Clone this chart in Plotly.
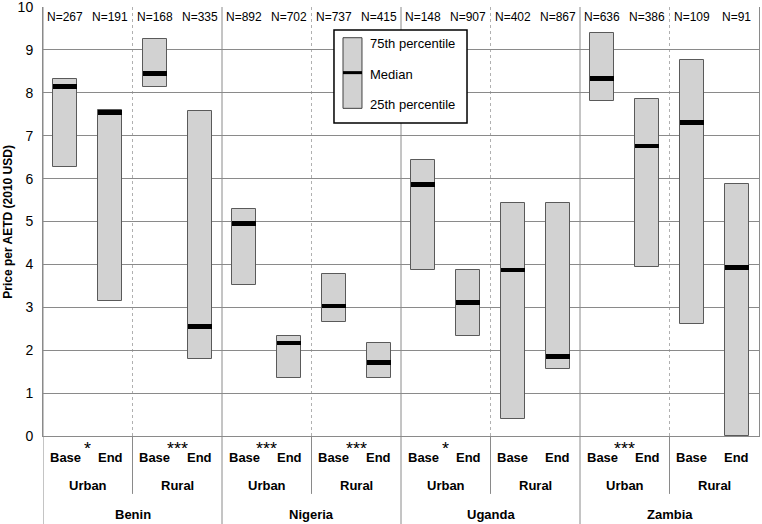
import plotly.graph_objects as go

# ---- data ----
countries = ["Benin", "Nigeria", "Uganda", "Zambia"]
areas = ["Urban", "Rural"]
periods = ["Base", "End"]
n_labels = ["N=267", "N=191", "N=168", "N=335", "N=892", "N=702", "N=737", "N=415",
            "N=148", "N=907", "N=402", "N=867", "N=636", "N=386", "N=109", "N=91"]
p25 = [6.28, 3.15, 8.14, 1.79, 3.52, 1.36, 2.65, 1.36,
       3.87, 2.33, 0.40, 1.56, 7.80, 3.93, 2.61, 0.00]
median = [8.15, 7.54, 8.45, 2.55, 4.95, 2.17, 3.03, 1.72,
          5.87, 3.12, 3.87, 1.86, 8.34, 6.76, 7.30, 3.92]
p75 = [8.33, 7.59, 9.25, 7.57, 5.28, 2.33, 3.78, 2.17,
       6.43, 3.87, 5.42, 5.42, 9.39, 7.85, 8.76, 5.87]
signif = ["*", "***", "***", "***", "*", "", "***", ""]
y_ticks = [0, 1, 2, 3, 4, 5, 6, 7, 8, 9, 10]

FONT = "Liberation Sans, Arial, sans-serif"
n = len(p25)
xs = [i + 0.5 for i in range(n)]
W = 0.54
med_h = 0.11


def ann(x, y, text, size, xref="x", xanchor="center", **kw):
    return dict(x=x, y=y, xref=xref, yref="paper", text=text, showarrow=False,
                xanchor=xanchor, yanchor="middle",
                font=dict(size=size, color="#000", family=FONT), **kw)


fig = go.Figure()
fig.add_trace(go.Bar(
    x=xs, y=[t - b for t, b in zip(p75, p25)], base=p25, width=W,
    marker=dict(color="#d2d2d2", line=dict(color="#5a5a5a", width=1)),
    showlegend=False, hoverinfo="skip"))
fig.add_trace(go.Bar(
    x=xs, y=[med_h] * n, base=[m - med_h / 2 for m in median], width=W,
    marker=dict(color="#000000", line=dict(width=0)),
    showlegend=False, hoverinfo="skip"))

shapes = []
annotations = []
# vertical separators
for k in range(1, 8):
    xv = 2 * k
    if k % 2 == 1:
        shapes.append(dict(type="line", xref="x", yref="paper", x0=xv, x1=xv, y0=0, y1=1,
                           line=dict(color="#b0b0b0", width=1, dash="dot"), layer="below"))
        shapes.append(dict(type="line", xref="x", yref="paper", x0=xv, x1=xv, y0=0, y1=-0.135,
                           line=dict(color="#8a8a8a", width=1)))
    else:
        shapes.append(dict(type="line", xref="x", yref="paper", x0=xv, x1=xv, y0=1, y1=-0.21,
                           line=dict(color="#8a8a8a", width=1), layer="below"))
shapes.append(dict(type="line", xref="x", yref="paper", x0=0, x1=0, y0=1, y1=-0.21,
                   line=dict(color="#8a8a8a", width=1)))

for i in range(n):
    annotations.append(ann(xs[i], 0.977, n_labels[i], 12))
    annotations.append(ann(xs[i], -0.050, "<b>" + periods[i % 2] + "</b>", 13))
for g in range(8):
    annotations.append(ann(2 * g + 1, -0.116, "<b>" + areas[g % 2] + "</b>", 13))
    if signif[g]:
        annotations.append(ann(2 * g + 1, -0.0186, signif[g], 18,
                               height=9, valign="top", borderpad=0))
for c in range(4):
    annotations.append(ann(4 * c + 2, -0.182, "<b>" + countries[c] + "</b>", 13))

# legend box
shapes.append(dict(type="rect", xref="paper", yref="paper", x0=0.4064, x1=0.5922,
                   y0=0.7296, y1=0.9464, line=dict(color="#000", width=1.5),
                   fillcolor="#ffffff"))
shapes.append(dict(type="rect", xref="paper", yref="paper", x0=0.419, x1=0.4455,
                   y0=0.7638, y1=0.9284, line=dict(color="#404040", width=1),
                   fillcolor="#d2d2d2"))
shapes.append(dict(type="rect", xref="paper", yref="paper", x0=0.419, x1=0.4455,
                   y0=0.8435, y1=0.8505, line=dict(width=0), fillcolor="#000"))
for txt, yy in [("75th percentile", 0.915), ("Median", 0.8438), ("25th percentile", 0.7716)]:
    annotations.append(ann(0.4545, yy, txt, 13, xref="paper", xanchor="left"))

annotations.append(ann(-0.05, 0.5, "<b>Price per AETD (2010 USD)</b>", 12,
                       xref="paper", textangle=-90))

fig.update_layout(
    width=762, height=524,
    margin=dict(l=43, r=3, t=7, b=88, autoexpand=False),
    paper_bgcolor="#ffffff", plot_bgcolor="#ffffff",
    barmode="overlay", bargap=0,
    shapes=shapes, annotations=annotations,
    font=dict(family=FONT, color="#000"),
    xaxis=dict(range=[0, 16], showticklabels=False, showgrid=False, zeroline=False,
               showline=True, linecolor="#8a8a8a", linewidth=1, ticks="",
               fixedrange=True, automargin=False),
    yaxis=dict(range=[0, 10], tickvals=y_ticks, showgrid=True, gridcolor="#8a8a8a",
               gridwidth=1, zeroline=False, showline=True, linecolor="#8a8a8a",
               linewidth=1, mirror=True, ticks="", tickfont=dict(size=14, color="#000"),
               ticklabelstandoff=6, automargin=False, ticklabeloverflow="allow"),
)

fig.write_html("out.html", config={"displayModeBar": False},
               post_script="document.body.style.margin='0';")
